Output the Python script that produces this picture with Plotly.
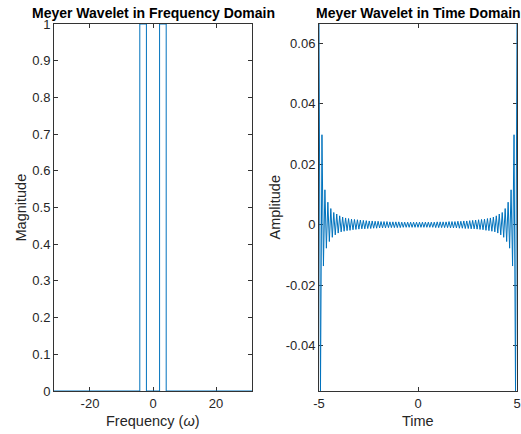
import numpy as np
import plotly.graph_objects as go

# ---------------- data ----------------
freq_omega = [-31.42, -4.19, -4.19, -2.09, -2.09, 2.09, 2.09, 4.19, 4.19, 31.42]
freq_mag = [0, 0, 1, 1, 0, 0, 1, 1, 0, 0]

time_amp = [
    0.0664, -0.0549,
    0.0298, -0.0136, 0.0116, -0.0077, 0.0075, -0.0055, 0.0054, -0.0041, 0.0041, -0.0033,
    0.0036, -0.0027, 0.0030, -0.0023, 0.0026, -0.0021, 0.0023, -0.0019, 0.0021, -0.0018,
    0.0019, -0.0016, 0.0018, -0.0015, 0.0017, -0.0014, 0.0016, -0.0013, 0.0015, -0.0013,
    0.0014, -0.0012, 0.0013, -0.0012, 0.0013, -0.0011, 0.0012, -0.0011, 0.0012, -0.0010,
    0.0011, -0.0010, 0.0011, -0.0010, 0.0011, -0.0009, 0.0010, -0.0009, 0.0010, -0.0009,
    0.0010, -0.0009, 0.0010, -0.0009, 0.0009, -0.0008, 0.0009, -0.0008, 0.0009, -0.0008,
    0.0009, -0.0008, 0.0009, -0.0008, 0.0009,
    -0.0008,
    0.0009, -0.0008, 0.0009, -0.0008, 0.0009,
    -0.0008, 0.0009, -0.0008, 0.0009, -0.0008, 0.0009, -0.0009, 0.0010, -0.0009, 0.0010,
    -0.0009, 0.0010, -0.0009, 0.0010, -0.0009, 0.0011, -0.0010, 0.0011, -0.0010, 0.0011,
    -0.0010, 0.0012, -0.0011, 0.0012, -0.0011, 0.0013, -0.0012, 0.0013, -0.0012, 0.0014,
    -0.0013, 0.0015, -0.0013, 0.0016, -0.0014, 0.0017, -0.0015, 0.0018, -0.0016, 0.0019,
    -0.0018, 0.0021, -0.0019, 0.0023, -0.0021, 0.0026, -0.0023, 0.0030, -0.0027, 0.0036,
    -0.0033, 0.0041, -0.0041, 0.0054, -0.0055, 0.0075, -0.0077, 0.0116, -0.0136, 0.0298,
    -0.0549, 0.0664,
]
time_t = np.linspace(-5, 5, len(time_amp))

freq_ticks = [-20, 0, 20]
freq_tick_text = ["-20", "0", "20"]
mag_ticks = [0, 0.1, 0.2, 0.3, 0.4, 0.5, 0.6, 0.7, 0.8, 0.9, 1]
mag_tick_text = ["0", "0.1", "0.2", "0.3", "0.4", "0.5", "0.6", "0.7", "0.8", "0.9", "1"]
time_ticks = [-5, 0, 5]
time_tick_text = ["-5", "0", "5"]
amp_ticks = [-0.04, -0.02, 0, 0.02, 0.04, 0.06]
amp_tick_text = ["-0.04", "-0.02", "0", "0.02", "0.04", "0.06"]

# ---------------- figure ----------------
W, H = 521, 434
BLUE = "#0072BD"
AX = "#333333"
FONT = "Liberation Sans, Arial, sans-serif"

fig = go.Figure()
fig.add_trace(go.Scatter(x=freq_omega, y=freq_mag, mode="lines",
                         line=dict(color=BLUE, width=1), xaxis="x", yaxis="y",
                         showlegend=False))
fig.add_trace(go.Scatter(x=time_t, y=time_amp, mode="lines",
                         line=dict(color=BLUE, width=1), xaxis="x2", yaxis="y2",
                         showlegend=False))

def ax_style(**kw):
    d = dict(showline=True, linecolor=AX, linewidth=1, mirror="allticks",
             ticks="inside", ticklen=4, tickwidth=1, tickcolor=AX,
             showgrid=False, zeroline=False, layer="below traces", automargin=False,
             tickfont=dict(family=FONT, size=13, color="#262626"))
    d.update(kw)
    return d

xl, xr = 54, 252
xl2, xr2 = 319, 517
yt, yb = 24, 391

fig.update_layout(
    width=W, height=H, autosize=False,
    margin=dict(l=0, r=0, t=0, b=0, pad=0),
    paper_bgcolor="white", plot_bgcolor="white",
    xaxis=ax_style(domain=[xl / W, xr / W], range=[-31.42, 31.42],
                   tickvals=freq_ticks, ticktext=freq_tick_text, anchor="y"),
    yaxis=ax_style(domain=[1 - yb / H, 1 - yt / H], range=[0, 1],
                   tickvals=mag_ticks, ticktext=mag_tick_text, anchor="x"),
    xaxis2=ax_style(domain=[xl2 / W, xr2 / W], range=[-5, 5],
                    tickvals=time_ticks, ticktext=time_tick_text, anchor="y2"),
    yaxis2=ax_style(domain=[1 - yb / H, 1 - yt / H], range=[-0.0549, 0.0664],
                    tickvals=amp_ticks, ticktext=amp_tick_text, anchor="x2"),
)

cx1 = (xl + xr) / 2 / W
cx2 = (xl2 + xr2) / 2 / W
cy = 1 - (yt + yb) / 2 / H
ann = [
    dict(text="<b>Meyer Wavelet in Frequency Domain</b>", x=cx1, y=1 - 13 / H, size=14),
    dict(text="<b>Meyer Wavelet in Time Domain</b>", x=cx2, y=1 - 13 / H, size=14),
    dict(text="Frequency (<i>ω</i>)", x=cx1, y=1 - 421 / H, size=14.5),
    dict(text="Time", x=cx2, y=1 - 421 / H, size=14.5),
]
for a in ann:
    fig.add_annotation(text=a["text"], x=a["x"], y=a["y"], xref="paper", yref="paper",
                       xanchor="center", yanchor="middle", showarrow=False,
                       font=dict(family=FONT, size=a["size"], color="#000000" if "<b>" in a["text"] else "#262626"))
for txt, x in [("Magnitude", 21), ("Amplitude", 275)]:
    fig.add_annotation(text=txt, x=x / W, y=cy, xref="paper", yref="paper",
                       xanchor="center", yanchor="middle", showarrow=False, textangle=-90,
                       font=dict(family=FONT, size=14.5, color="#262626"))

fig.write_html("out.html", config={"displayModeBar": False},
               post_script="document.body.style.margin='0';document.body.style.overflow='hidden';")
